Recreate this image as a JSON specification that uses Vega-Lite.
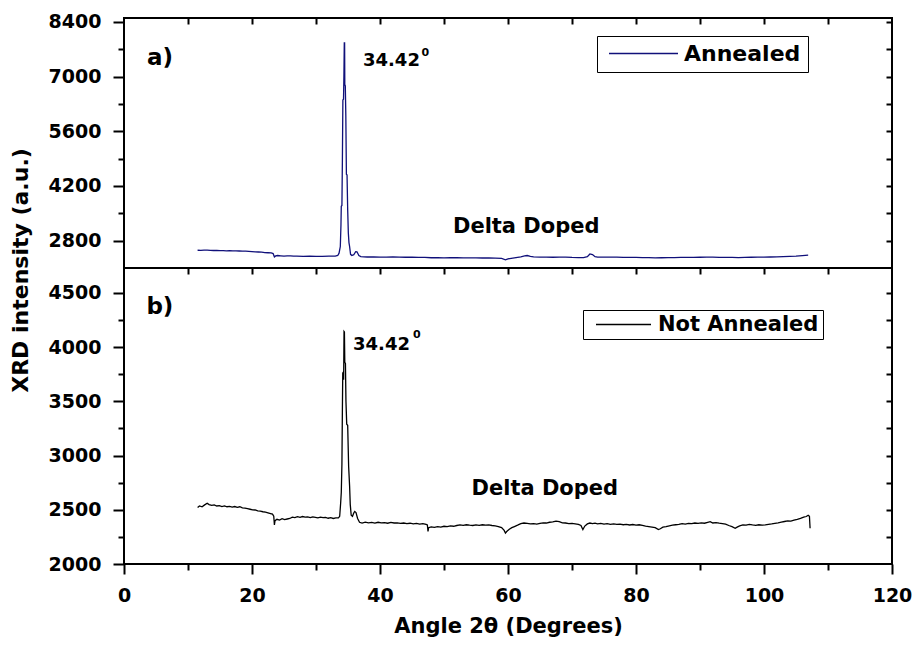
{
  "$schema": "https://vega.github.io/schema/vega-lite/v6.json",
  "background": "white",
  "padding": {"left": 8, "top": 11, "right": 5, "bottom": 5},
  "spacing": 0,
  "bounds": "flush",
  "config": {
    "font": "DejaVu Sans",
    "view": {"stroke": "#000", "strokeWidth": 2},
    "axis": {
      "domain": false, "grid": false, "tickColor": "#000", "tickWidth": 2, "labelFlush": false,
      "labelFont": "DejaVu Sans", "labelFontWeight": "bold", "labelFontSize": 19, "labelColor": "#000",
      "titleFont": "DejaVu Sans", "titleFontWeight": "bold", "titleFontSize": 21, "titleColor": "#000"
    },
    "text": {"font": "DejaVu Sans", "fontWeight": "bold", "color": "#000", "align": "left", "baseline": "alphabetic"}
  },
  "datasets": {
    "annealed": [
      {"angle":11.5,"intensity":2555},{"angle":12,"intensity":2552},{"angle":12.5,"intensity":2558},{"angle":13,"intensity":2560},{"angle":13.5,"intensity":2552},{"angle":14,"intensity":2548},{"angle":14.5,"intensity":2550},{"angle":15,"intensity":2545},{"angle":15.5,"intensity":2546},{"angle":16,"intensity":2540},{"angle":16.5,"intensity":2542},{"angle":17,"intensity":2538},{"angle":17.5,"intensity":2540},{"angle":18,"intensity":2535},{"angle":18.5,"intensity":2530},{"angle":19,"intensity":2530},{"angle":19.5,"intensity":2526},{"angle":20,"intensity":2520},{"angle":20.5,"intensity":2515},{"angle":21,"intensity":2510},{"angle":21.5,"intensity":2505},{"angle":22,"intensity":2495},{"angle":22.5,"intensity":2490},{"angle":23,"intensity":2485},{"angle":23.3,"intensity":2470},{"angle":23.5,"intensity":2385},{"angle":23.7,"intensity":2410},{"angle":24,"intensity":2420},{"angle":24.5,"intensity":2412},{"angle":25,"intensity":2405},{"angle":25.5,"intensity":2408},{"angle":26,"intensity":2410},{"angle":26.5,"intensity":2404},{"angle":27,"intensity":2405},{"angle":28,"intensity":2400},{"angle":29,"intensity":2405},{"angle":30,"intensity":2400},{"angle":31,"intensity":2398},{"angle":32,"intensity":2402},{"angle":33,"intensity":2405},{"angle":33.4,"intensity":2420},{"angle":33.6,"intensity":2480},{"angle":33.8,"intensity":2650},{"angle":33.9,"intensity":3200},{"angle":33.95,"intensity":3680},{"angle":34.05,"intensity":3700},{"angle":34.12,"intensity":4800},{"angle":34.2,"intensity":6400},{"angle":34.3,"intensity":6420},{"angle":34.36,"intensity":7000},{"angle":34.42,"intensity":7860},{"angle":34.47,"intensity":7860},{"angle":34.5,"intensity":6800},{"angle":34.58,"intensity":6760},{"angle":34.66,"intensity":6000},{"angle":34.75,"intensity":4500},{"angle":34.85,"intensity":4480},{"angle":34.95,"intensity":3600},{"angle":35.05,"intensity":3000},{"angle":35.15,"intensity":2750},{"angle":35.25,"intensity":2650},{"angle":35.4,"intensity":2450},{"angle":35.6,"intensity":2420},{"angle":35.9,"intensity":2440},{"angle":36.2,"intensity":2520},{"angle":36.4,"intensity":2515},{"angle":36.7,"intensity":2420},{"angle":37,"intensity":2390},{"angle":38,"intensity":2382},{"angle":39,"intensity":2385},{"angle":40,"intensity":2378},{"angle":41,"intensity":2380},{"angle":42,"intensity":2382},{"angle":43,"intensity":2376},{"angle":44,"intensity":2375},{"angle":45,"intensity":2378},{"angle":46,"intensity":2374},{"angle":47,"intensity":2372},{"angle":48,"intensity":2362},{"angle":49,"intensity":2365},{"angle":50,"intensity":2360},{"angle":51,"intensity":2362},{"angle":52,"intensity":2365},{"angle":53,"intensity":2360},{"angle":54,"intensity":2358},{"angle":55,"intensity":2360},{"angle":56,"intensity":2356},{"angle":57,"intensity":2358},{"angle":58,"intensity":2352},{"angle":59,"intensity":2345},{"angle":59.6,"intensity":2310},{"angle":60,"intensity":2335},{"angle":61,"intensity":2360},{"angle":62,"intensity":2385},{"angle":62.6,"intensity":2410},{"angle":63,"intensity":2420},{"angle":63.5,"intensity":2400},{"angle":64,"intensity":2385},{"angle":65,"intensity":2380},{"angle":66,"intensity":2378},{"angle":67,"intensity":2375},{"angle":68,"intensity":2378},{"angle":69,"intensity":2380},{"angle":70,"intensity":2372},{"angle":71,"intensity":2368},{"angle":71.8,"intensity":2365},{"angle":72.4,"intensity":2390},{"angle":72.8,"intensity":2460},{"angle":73.2,"intensity":2445},{"angle":73.6,"intensity":2390},{"angle":74,"intensity":2380},{"angle":75,"intensity":2378},{"angle":76,"intensity":2376},{"angle":77,"intensity":2378},{"angle":78,"intensity":2374},{"angle":79,"intensity":2372},{"angle":80,"intensity":2370},{"angle":81,"intensity":2368},{"angle":82,"intensity":2365},{"angle":83,"intensity":2358},{"angle":84,"intensity":2362},{"angle":85,"intensity":2365},{"angle":86,"intensity":2368},{"angle":87,"intensity":2370},{"angle":88,"intensity":2372},{"angle":89,"intensity":2370},{"angle":90,"intensity":2375},{"angle":91,"intensity":2376},{"angle":92,"intensity":2378},{"angle":93,"intensity":2374},{"angle":94,"intensity":2372},{"angle":95,"intensity":2370},{"angle":96,"intensity":2368},{"angle":97,"intensity":2372},{"angle":98,"intensity":2375},{"angle":99,"intensity":2376},{"angle":100,"intensity":2380},{"angle":101,"intensity":2382},{"angle":102,"intensity":2385},{"angle":103,"intensity":2390},{"angle":104,"intensity":2398},{"angle":105,"intensity":2405},{"angle":106,"intensity":2418},{"angle":106.9,"intensity":2430}
    ],
    "notannealed": [
      {"angle":11.5,"intensity":2520},{"angle":11.8,"intensity":2535},{"angle":12.2,"intensity":2528},{"angle":12.6,"intensity":2545},{"angle":13,"intensity":2560},{"angle":13.3,"intensity":2548},{"angle":13.7,"intensity":2540},{"angle":14.1,"intensity":2545},{"angle":14.5,"intensity":2535},{"angle":14.9,"intensity":2538},{"angle":15.3,"intensity":2530},{"angle":15.7,"intensity":2536},{"angle":16.1,"intensity":2528},{"angle":16.5,"intensity":2532},{"angle":16.9,"intensity":2525},{"angle":17.3,"intensity":2530},{"angle":17.7,"intensity":2522},{"angle":18.1,"intensity":2528},{"angle":18.5,"intensity":2518},{"angle":18.9,"intensity":2515},{"angle":19.3,"intensity":2510},{"angle":19.7,"intensity":2505},{"angle":20.1,"intensity":2500},{"angle":20.5,"intensity":2498},{"angle":20.9,"intensity":2490},{"angle":21.3,"intensity":2488},{"angle":21.7,"intensity":2482},{"angle":22.1,"intensity":2478},{"angle":22.5,"intensity":2472},{"angle":22.9,"intensity":2465},{"angle":23.2,"intensity":2460},{"angle":23.4,"intensity":2440},{"angle":23.5,"intensity":2360},{"angle":23.6,"intensity":2400},{"angle":23.9,"intensity":2412},{"angle":24.3,"intensity":2405},{"angle":24.7,"intensity":2418},{"angle":25.1,"intensity":2410},{"angle":25.5,"intensity":2415},{"angle":25.9,"intensity":2420},{"angle":26.3,"intensity":2432},{"angle":26.7,"intensity":2428},{"angle":27.1,"intensity":2436},{"angle":27.5,"intensity":2430},{"angle":27.9,"intensity":2438},{"angle":28.3,"intensity":2432},{"angle":28.7,"intensity":2435},{"angle":29.1,"intensity":2428},{"angle":29.5,"intensity":2434},{"angle":29.9,"intensity":2430},{"angle":30.3,"intensity":2425},{"angle":30.7,"intensity":2432},{"angle":31.1,"intensity":2427},{"angle":31.5,"intensity":2430},{"angle":31.9,"intensity":2422},{"angle":32.3,"intensity":2428},{"angle":32.7,"intensity":2420},{"angle":33.1,"intensity":2425},{"angle":33.5,"intensity":2425},{"angle":33.7,"intensity":2440},{"angle":33.85,"intensity":2560},{"angle":33.95,"intensity":2660},{"angle":34.05,"intensity":2920},{"angle":34.12,"intensity":3400},{"angle":34.18,"intensity":3760},{"angle":34.26,"intensity":3770},{"angle":34.32,"intensity":3700},{"angle":34.38,"intensity":4145},{"angle":34.44,"intensity":4140},{"angle":34.5,"intensity":3860},{"angle":34.6,"intensity":3850},{"angle":34.68,"intensity":3500},{"angle":34.8,"intensity":3290},{"angle":34.95,"intensity":3280},{"angle":35.1,"intensity":2900},{"angle":35.25,"intensity":2720},{"angle":35.35,"intensity":2550},{"angle":35.5,"intensity":2450},{"angle":35.7,"intensity":2440},{"angle":35.9,"intensity":2470},{"angle":36.05,"intensity":2485},{"angle":36.25,"intensity":2475},{"angle":36.5,"intensity":2420},{"angle":36.8,"intensity":2385},{"angle":37.2,"intensity":2378},{"angle":37.7,"intensity":2386},{"angle":38.2,"intensity":2380},{"angle":38.7,"intensity":2384},{"angle":39.2,"intensity":2377},{"angle":39.7,"intensity":2385},{"angle":40.2,"intensity":2380},{"angle":40.7,"intensity":2382},{"angle":41.2,"intensity":2376},{"angle":41.7,"intensity":2383},{"angle":42.2,"intensity":2378},{"angle":42.7,"intensity":2380},{"angle":43.2,"intensity":2374},{"angle":43.7,"intensity":2378},{"angle":44.2,"intensity":2372},{"angle":44.7,"intensity":2376},{"angle":45.2,"intensity":2370},{"angle":45.7,"intensity":2374},{"angle":46.2,"intensity":2368},{"angle":46.7,"intensity":2372},{"angle":47.2,"intensity":2366},{"angle":47.4,"intensity":2360},{"angle":47.5,"intensity":2300},{"angle":47.6,"intensity":2335},{"angle":48,"intensity":2342},{"angle":48.5,"intensity":2338},{"angle":49,"intensity":2345},{"angle":49.5,"intensity":2340},{"angle":50,"intensity":2348},{"angle":50.5,"intensity":2344},{"angle":51,"intensity":2352},{"angle":51.5,"intensity":2348},{"angle":52,"intensity":2355},{"angle":52.5,"intensity":2360},{"angle":53,"intensity":2356},{"angle":53.5,"intensity":2362},{"angle":54,"intensity":2358},{"angle":54.5,"intensity":2355},{"angle":55,"intensity":2360},{"angle":55.5,"intensity":2356},{"angle":56,"intensity":2362},{"angle":56.5,"intensity":2358},{"angle":57,"intensity":2360},{"angle":57.5,"intensity":2355},{"angle":58,"intensity":2352},{"angle":58.5,"intensity":2345},{"angle":59,"intensity":2335},{"angle":59.4,"intensity":2310},{"angle":59.6,"intensity":2285},{"angle":59.8,"intensity":2300},{"angle":60.2,"intensity":2320},{"angle":60.6,"intensity":2335},{"angle":61,"intensity":2345},{"angle":61.5,"intensity":2358},{"angle":62,"intensity":2372},{"angle":62.5,"intensity":2378},{"angle":63,"intensity":2375},{"angle":63.5,"intensity":2370},{"angle":64,"intensity":2372},{"angle":64.5,"intensity":2368},{"angle":65,"intensity":2375},{"angle":65.5,"intensity":2380},{"angle":66,"intensity":2378},{"angle":66.5,"intensity":2385},{"angle":67,"intensity":2388},{"angle":67.5,"intensity":2395},{"angle":68,"intensity":2390},{"angle":68.5,"intensity":2380},{"angle":69,"intensity":2378},{"angle":69.5,"intensity":2372},{"angle":70,"intensity":2375},{"angle":70.5,"intensity":2370},{"angle":71,"intensity":2365},{"angle":71.4,"intensity":2355},{"angle":71.7,"intensity":2318},{"angle":72,"intensity":2350},{"angle":72.4,"intensity":2370},{"angle":72.8,"intensity":2378},{"angle":73.2,"intensity":2372},{"angle":73.6,"intensity":2376},{"angle":74,"intensity":2370},{"angle":74.5,"intensity":2374},{"angle":75,"intensity":2368},{"angle":75.5,"intensity":2372},{"angle":76,"intensity":2366},{"angle":76.5,"intensity":2370},{"angle":77,"intensity":2365},{"angle":77.5,"intensity":2368},{"angle":78,"intensity":2362},{"angle":78.5,"intensity":2366},{"angle":79,"intensity":2360},{"angle":79.5,"intensity":2364},{"angle":80,"intensity":2358},{"angle":80.5,"intensity":2362},{"angle":81,"intensity":2356},{"angle":81.5,"intensity":2350},{"angle":82,"intensity":2345},{"angle":82.5,"intensity":2340},{"angle":83,"intensity":2335},{"angle":83.5,"intensity":2318},{"angle":83.8,"intensity":2325},{"angle":84.2,"intensity":2340},{"angle":84.7,"intensity":2345},{"angle":85.2,"intensity":2352},{"angle":85.7,"intensity":2358},{"angle":86.2,"intensity":2362},{"angle":86.7,"intensity":2366},{"angle":87.2,"intensity":2372},{"angle":87.7,"intensity":2368},{"angle":88.2,"intensity":2375},{"angle":88.7,"intensity":2372},{"angle":89.2,"intensity":2378},{"angle":89.7,"intensity":2374},{"angle":90.2,"intensity":2380},{"angle":90.7,"intensity":2376},{"angle":91.2,"intensity":2384},{"angle":91.6,"intensity":2390},{"angle":92,"intensity":2378},{"angle":92.5,"intensity":2382},{"angle":93,"intensity":2376},{"angle":93.5,"intensity":2372},{"angle":94,"intensity":2368},{"angle":94.5,"intensity":2355},{"angle":95,"intensity":2345},{"angle":95.5,"intensity":2330},{"angle":95.8,"intensity":2340},{"angle":96.2,"intensity":2352},{"angle":96.7,"intensity":2360},{"angle":97.2,"intensity":2358},{"angle":97.7,"intensity":2366},{"angle":98.2,"intensity":2360},{"angle":98.7,"intensity":2356},{"angle":99.2,"intensity":2362},{"angle":99.7,"intensity":2358},{"angle":100.2,"intensity":2360},{"angle":100.7,"intensity":2366},{"angle":101.2,"intensity":2370},{"angle":101.7,"intensity":2375},{"angle":102.2,"intensity":2380},{"angle":102.7,"intensity":2386},{"angle":103.2,"intensity":2392},{"angle":103.7,"intensity":2398},{"angle":104.2,"intensity":2395},{"angle":104.7,"intensity":2405},{"angle":105.2,"intensity":2412},{"angle":105.7,"intensity":2420},{"angle":106.2,"intensity":2432},{"angle":106.6,"intensity":2438},{"angle":106.9,"intensity":2450},{"angle":107.1,"intensity":2440},{"angle":107.2,"intensity":2330}
    ]
  },
  "vconcat": [
    {
      "width": 768,
      "height": 250,
      "layer": [
        {
          "data": {"name": "annealed"},
          "mark": {"type": "line", "strokeWidth": 1.3},
          "encoding": {
            "x": {"field": "angle", "type": "quantitative", "scale": {"domain": [0, 120], "nice": false},
              "axis": {"orient": "top", "values": [10,20,30,40,50,60,70,80,90,100,110], "tickSize": -6, "labels": false, "title": null}},
            "y": {"field": "intensity", "type": "quantitative", "scale": {"domain": [2100, 8500], "nice": false, "zero": false},
              "axis": {"orient": "left", "values": [2800,3500,4200,4900,5600,6300,7000,7700,8400], "format": "d",
                "labelExpr": "datum.value % 1400 === 0 ? datum.label : ''",
                "tickSize": {"condition": {"test": "datum.value % 1400 === 0", "value": 11}, "value": 6},
                "labelPadding": 12,
                "title": "XRD intensity (a.u.)", "titleX": -97, "titleY": 252, "titleAngle": -90,
                "titleAlign": "center", "titleBaseline": "alphabetic", "titleFontSize": 22}},
            "color": {"datum": "Annealed", "type": "nominal", "scale": {"range": ["#10107a"]},
              "legend": {"orient": "none", "legendX": 473, "legendY": 18, "title": null, "strokeColor": "#000",
                "fillColor": "white", "padding": 7, "symbolType": "stroke", "symbolSize": 4761, "symbolStrokeWidth": 1.5,
                "clipHeight": 21, "symbolOffset": 4, "labelOffset": 5, "labelFontSize": 22, "labelFont": "DejaVu Sans",
                "labelFontWeight": "bold", "labelColor": "#000", "labelLimit": 400}}
          }
        },
        {
          "data": {"values": [{"x": 3.6, "y": 7304, "t": "a)"}]},
          "mark": {"type": "text", "fontSize": 23},
          "encoding": {
            "x": {"field": "x", "type": "quantitative", "axis": null},
            "y": {"field": "y", "type": "quantitative",
              "axis": {"orient": "right", "values": [2800,3500,4200,4900,5600,6300,7000,7700,8400], "tickSize": -6, "labels": false, "title": null}},
            "text": {"field": "t"}
          }
        },
        {
          "data": {"values": [{"x": 37.34, "y": 7261, "t": "34.42"}]},
          "mark": {"type": "text", "fontSize": 18},
          "encoding": {
            "x": {"field": "x", "type": "quantitative", "axis": null},
            "y": {"field": "y", "type": "quantitative", "axis": null},
            "text": {"field": "t"}
          }
        },
        {
          "data": {"values": [{"x": 46.5, "y": 7535, "t": "0"}]},
          "mark": {"type": "text", "fontSize": 11},
          "encoding": {
            "x": {"field": "x", "type": "quantitative", "axis": null},
            "y": {"field": "y", "type": "quantitative", "axis": null},
            "text": {"field": "t"}
          }
        },
        {
          "data": {"values": [{"x": 51.4, "y": 2996, "t": "Delta Doped"}]},
          "mark": {"type": "text", "fontSize": 21},
          "encoding": {
            "x": {"field": "x", "type": "quantitative", "axis": null},
            "y": {"field": "y", "type": "quantitative", "axis": null},
            "text": {"field": "t"}
          }
        }
      ],
      "resolve": {"axis": {"x": "independent", "y": "independent"}}
    },
    {
      "width": 768,
      "height": 296,
      "layer": [
        {
          "data": {"name": "notannealed"},
          "mark": {"type": "line", "strokeWidth": 1.3},
          "encoding": {
            "x": {"field": "angle", "type": "quantitative", "scale": {"domain": [0, 120], "nice": false},
              "axis": {"orient": "bottom", "values": [0,10,20,30,40,50,60,70,80,90,100,110,120], "format": "d",
                "labelExpr": "datum.value % 20 === 0 ? datum.label : ''",
                "tickSize": {"condition": {"test": "datum.value % 20 === 0", "value": 10}, "value": 6},
                "labelPadding": 12, "title": "Angle 2θ (Degrees)", "titlePadding": 10, "titleFontSize": 21}},
            "y": {"field": "intensity", "type": "quantitative", "scale": {"domain": [2000, 4730], "nice": false, "zero": false},
              "axis": {"orient": "left", "values": [2000,2250,2500,2750,3000,3250,3500,3750,4000,4250,4500], "format": "d",
                "labelExpr": "datum.value % 500 === 0 ? datum.label : ''",
                "tickSize": {"condition": {"test": "datum.value % 500 === 0", "value": 11}, "value": 6},
                "labelPadding": 12, "title": null}},
            "color": {"datum": "Not Annealed", "type": "nominal", "scale": {"range": ["#000000"]},
              "legend": {"orient": "none", "legendX": 459, "legendY": 42, "title": null, "strokeColor": "#000",
                "fillColor": "white", "padding": 4, "symbolType": "stroke", "symbolSize": 3025, "symbolStrokeWidth": 1.5,
                "clipHeight": 21, "symbolOffset": 8, "labelOffset": 6, "labelFontSize": 21, "labelFont": "DejaVu Sans",
                "labelFontWeight": "bold", "labelColor": "#000", "labelLimit": 400}}
          }
        },
        {
          "data": {"values": [{"x": 3.5, "y": 4308, "t": "b)"}]},
          "mark": {"type": "text", "fontSize": 23},
          "encoding": {
            "x": {"field": "x", "type": "quantitative",
              "axis": {"orient": "top", "values": [10,20,30,40,50,60,70,80,90,100,110], "tickSize": -6, "labels": false, "title": null}},
            "y": {"field": "y", "type": "quantitative",
              "axis": {"orient": "right", "values": [2250,2500,2750,3000,3250,3500,3750,4000,4250,4500], "tickSize": -6, "labels": false, "title": null}},
            "text": {"field": "t"}
          }
        },
        {
          "data": {"values": [{"x": 35.78, "y": 3976, "t": "34.42"}]},
          "mark": {"type": "text", "fontSize": 18},
          "encoding": {
            "x": {"field": "x", "type": "quantitative", "axis": null},
            "y": {"field": "y", "type": "quantitative", "axis": null},
            "text": {"field": "t"}
          }
        },
        {
          "data": {"values": [{"x": 45.15, "y": 4084, "t": "0"}]},
          "mark": {"type": "text", "fontSize": 11},
          "encoding": {
            "x": {"field": "x", "type": "quantitative", "axis": null},
            "y": {"field": "y", "type": "quantitative", "axis": null},
            "text": {"field": "t"}
          }
        },
        {
          "data": {"values": [{"x": 54.3, "y": 2639, "t": "Delta Doped"}]},
          "mark": {"type": "text", "fontSize": 21},
          "encoding": {
            "x": {"field": "x", "type": "quantitative", "axis": null},
            "y": {"field": "y", "type": "quantitative", "axis": null},
            "text": {"field": "t"}
          }
        }
      ],
      "resolve": {"axis": {"x": "independent", "y": "independent"}}
    }
  ],
  "resolve": {"scale": {"color": "independent", "y": "independent", "x": "shared"}, "legend": {"color": "independent"}}
}
